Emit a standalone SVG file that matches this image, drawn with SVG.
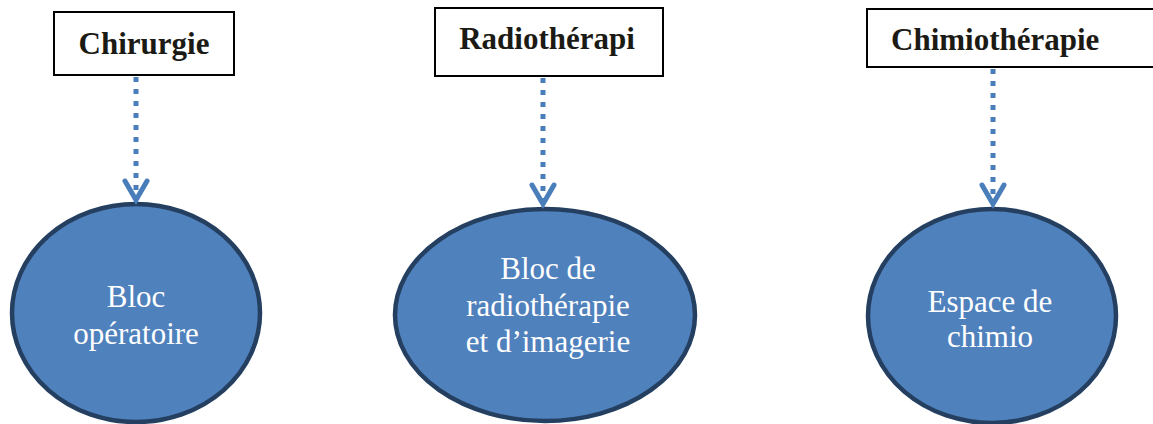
<svg xmlns="http://www.w3.org/2000/svg" width="1153" height="424" viewBox="0 0 1153 424">
<defs>
<style>
.box{fill:#fff;stroke:#000;stroke-width:2}
.btxt{font-family:'Liberation Serif','DejaVu Serif',serif;font-weight:bold;font-size:31px;fill:#1c1a14}
.ell{fill:#4F81BD;stroke:#243F60;stroke-width:4.5}
.etxt{font-family:'Liberation Serif','DejaVu Serif',serif;font-size:31px;fill:#fff;text-anchor:middle}
.dot{stroke:#4A7EBB;stroke-width:5;stroke-dasharray:5 7;fill:none}
.head{stroke:#4A7EBB;stroke-width:5;fill:none;stroke-linecap:round;stroke-linejoin:miter}
</style>
</defs>
<rect width="1153" height="424" fill="#fff"/>
<g id="chirurgie">
<rect class="box" x="54" y="12" width="180" height="63"/>
<text class="btxt" x="144" y="54" text-anchor="middle" font-family="Liberation Serif, serif">Chirurgie</text>
</g>
<g id="radiotherapie">
<rect class="box" x="435" y="8" width="228" height="68"/>
<text class="btxt" x="547" y="49" text-anchor="middle" font-family="Liberation Serif, serif">Radiothérapi</text>
</g>
<g id="chimiotherapie">
<rect class="box" x="867" y="9" width="292" height="58"/>
<text class="btxt" x="891" y="50" font-family="Liberation Serif, serif">Chimiothérapie</text>
</g>
<g id="bloc-operatoire">
<ellipse class="ell" cx="136" cy="313" rx="124" ry="109"/>
<text class="etxt" x="136" y="307" font-family="Liberation Serif, serif">Bloc</text>
<text class="etxt" x="136" y="344" font-family="Liberation Serif, serif">opératoire</text>
</g>
<g id="bloc-radio">
<ellipse class="ell" cx="545" cy="315" rx="150" ry="106"/>
<text class="etxt" x="548" y="279" font-family="Liberation Serif, serif">Bloc de</text>
<text class="etxt" x="548" y="316" font-family="Liberation Serif, serif">radiothérapie</text>
<text class="etxt" x="548" y="352" font-family="Liberation Serif, serif">et d’imagerie</text>
</g>
<g id="espace-chimio">
<ellipse class="ell" cx="992" cy="316" rx="124" ry="107"/>
<text class="etxt" x="990" y="312" font-family="Liberation Serif, serif">Espace de</text>
<text class="etxt" x="990" y="347" font-family="Liberation Serif, serif">chimio</text>
</g>
<g id="connectors">
<line class="dot" x1="136" y1="77" x2="136" y2="196"/>
<polyline class="head" points="125,181 136,200 147,181"/>
<line class="dot" x1="543" y1="78" x2="543" y2="200"/>
<polyline class="head" points="532,185 543,204 554,185"/>
<line class="dot" x1="993" y1="69" x2="993" y2="200"/>
<polyline class="head" points="982,185 993,204 1004,185"/>
</g>
</svg>
